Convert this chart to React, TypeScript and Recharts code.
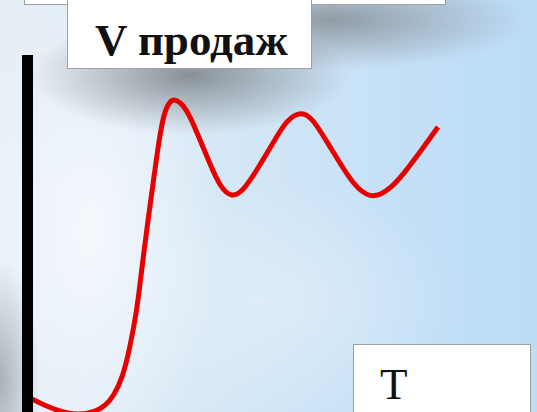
import React from 'react';
import { LineChart, Line, XAxis, YAxis, ReferenceLine } from 'recharts';

const time = [30, 48, 62, 78, 95, 106, 113, 123, 130, 137, 142, 148, 153, 158, 163, 168, 173, 178, 183, 190, 200, 210, 220, 232, 243, 257, 273, 287, 302, 313, 327, 340, 353, 370, 387, 403, 423, 438];
const sales = [14, 5, 0, -3, 0, 7, 15, 35, 65, 102, 145, 192, 228, 265, 295, 308, 313, 311, 307, 296, 272, 248, 225, 214, 221, 242, 269, 293, 301, 293, 270, 249, 228, 213, 220, 237, 264, 285];

const yLabel = 'V продаж';
const xLabel = 'T';

const W = 537;
const H = 412;

const data = time.map((t, i) => ({ t, v: sales[i] }));

const background = [
  'radial-gradient(ellipse 160px 60px at 190px 75px, rgba(110,115,120,0.75), rgba(110,115,120,0) 100%)',
  'radial-gradient(ellipse 200px 50px at 330px 20px, rgba(120,125,130,0.7), rgba(120,125,130,0) 100%)',
  'radial-gradient(ellipse 40px 120px at 0px 380px, rgba(130,135,140,0.6), rgba(130,135,140,0) 100%)',
  'radial-gradient(ellipse 130px 260px at 90px 230px, rgba(245,249,253,0.95), rgba(245,249,253,0) 100%)',
  'radial-gradient(ellipse 200px 120px at 260px 300px, rgba(226,238,248,0.8), rgba(226,238,248,0) 100%)',
  'linear-gradient(90deg, #e6eef5 0%, #d6e8f6 40%, #c4e0f7 75%, #bcdcf7 100%)',
].join(', ');

const boxStyle: React.CSSProperties = {
  position: 'absolute',
  background: '#ffffff',
  border: '1px solid #a0a0a0',
  boxSizing: 'border-box',
};

export default function App() {
  return (
    <div
      style={{
        position: 'absolute',
        left: 0,
        top: 0,
        width: W,
        height: H,
        overflow: 'hidden',
        background,
      }}
    >
      <LineChart width={W} height={H} data={data} margin={{ top: 0, right: 0, bottom: 0, left: 0 }}>
        <XAxis type="number" dataKey="t" domain={[0, W]} hide />
        <YAxis type="number" domain={[0, H]} hide allowDataOverflow />
        <Line
          type="basis"
          dataKey="v"
          stroke="#e80000"
          strokeWidth={5}
          dot={false}
          activeDot={false}
          isAnimationActive={false}
        />
        <ReferenceLine
          segment={[
            { x: 27.5, y: -20 },
            { x: 27.5, y: 357 },
          ]}
          stroke="#000000"
          strokeWidth={11}
          ifOverflow="visible"
        />
      </LineChart>

      <div style={{ ...boxStyle, left: 24, top: -2, width: 422, height: 7 }} />
      <div style={{ ...boxStyle, left: 67, top: -2, width: 245, height: 71 }}>
        <div
          style={{
            position: 'absolute',
            left: 27,
            top: 16,
            fontFamily: '"Liberation Serif", "Times New Roman", serif',
            fontWeight: 'bold',
            fontSize: 45,
            lineHeight: '50px',
            color: '#111',
            whiteSpace: 'nowrap',
          }}
        >
          {yLabel}
        </div>
      </div>
      <div style={{ ...boxStyle, left: 353, top: 344, width: 178, height: 80 }}>
        <div
          style={{
            position: 'absolute',
            left: 26,
            top: 14,
            fontFamily: '"Liberation Serif", "Times New Roman", serif',
            fontSize: 45,
            lineHeight: '50px',
            color: '#111',
          }}
        >
          {xLabel}
        </div>
      </div>
    </div>
  );
}
